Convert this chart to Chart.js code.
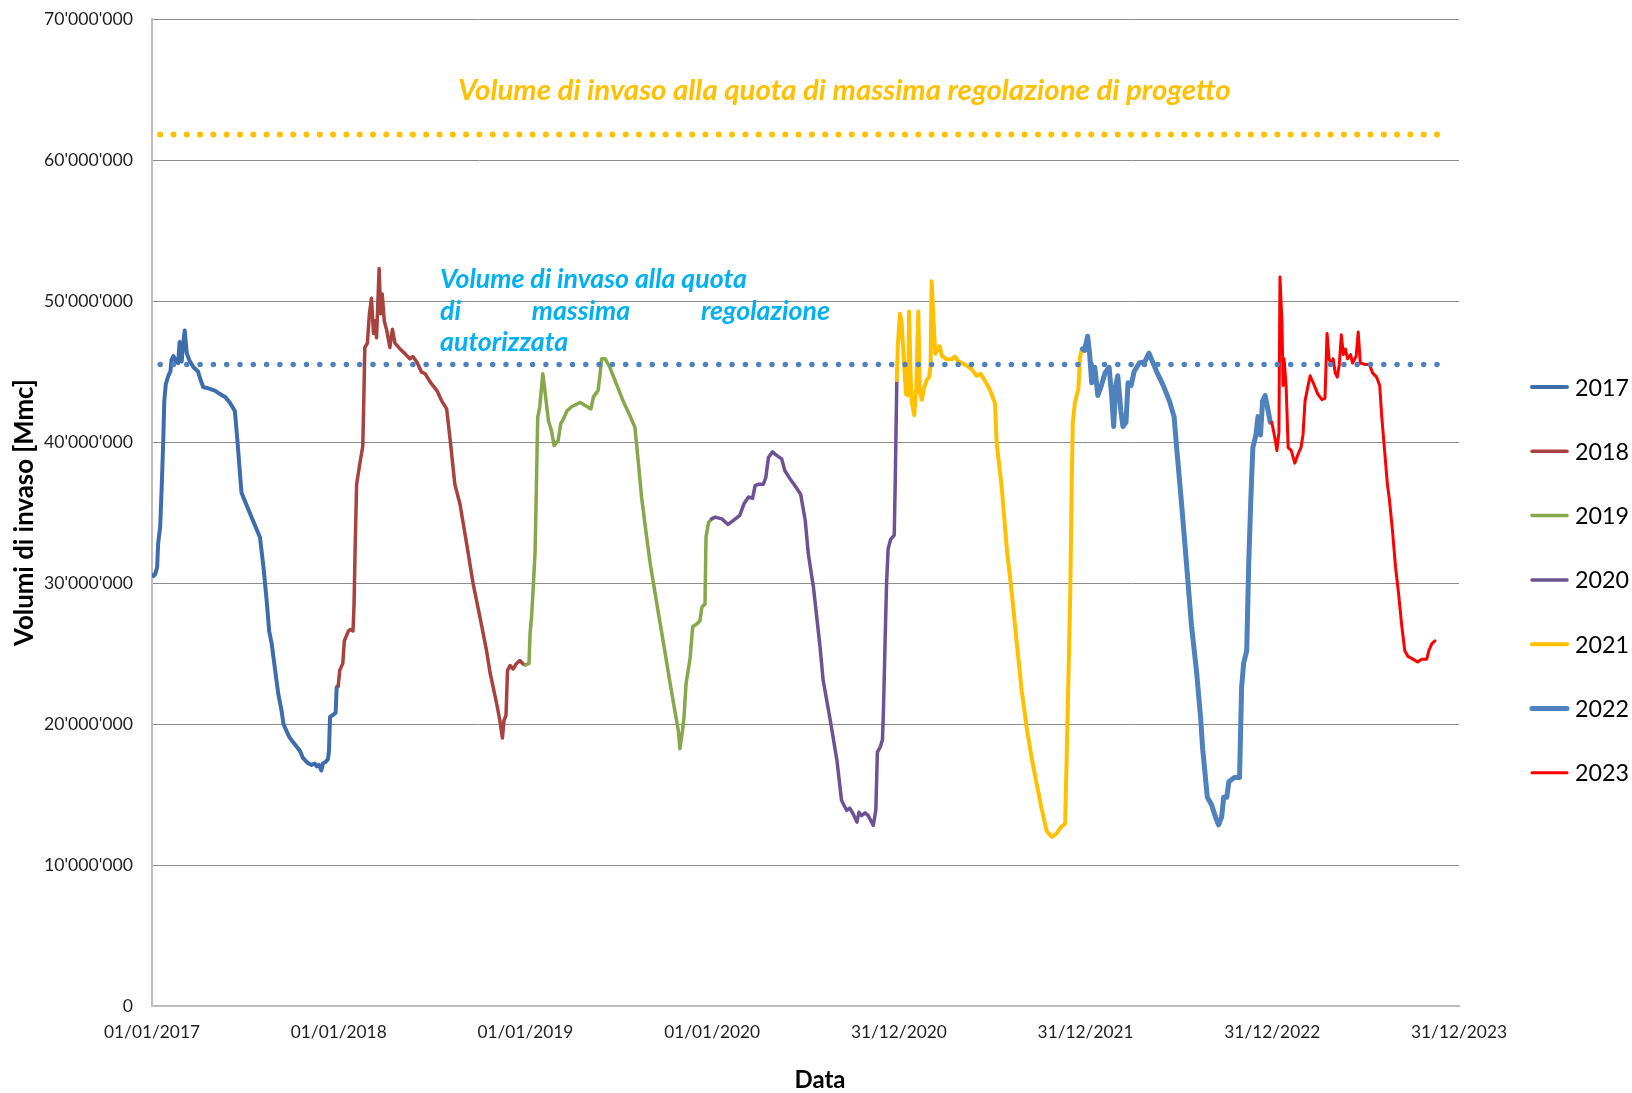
<!DOCTYPE html>
<html>
<head>
<meta charset="utf-8">
<script src="https://cdn.jsdelivr.net/npm/chart.js@4.4.1/dist/chart.umd.min.js"></script>
<style>
html,body{margin:0;padding:0;background:#ffffff;}
#wrap{width:1632px;height:1093px;position:relative;}
</style>
</head>
<body>
<div id="wrap"><canvas id="c"></canvas></div>
<script>
// ---------------- DATA (days since 01/01/2017, volume in millions of m3) ----------------
const seriesNames = ['2017','2018','2019','2020','2021','2022','2023'];

const days2017 = [0,3,6,10,12,16,19,22,24,27,32,36,38,42,47,51,54,58,61,64,68,73,81,90,94,100,110,123,133,143,152,162,167,171,175,192,211,218,224,229,234,240,247,253,257,263,268,276,289,295,300,306,312,318,322,326,331,334,339,344,346,348,354,359,361,364];
const vals2017 = [30.6,30.5,30.6,31.1,32.8,34.0,36.8,40.1,42.9,44.1,44.7,45.0,45.8,46.1,45.7,45.6,47.1,45.7,47.0,47.9,46.3,45.8,45.3,45.0,44.5,43.9,43.8,43.65,43.4,43.2,42.8,42.2,40.1,38.2,36.4,34.9,33.25,31.1,28.8,26.6,25.7,24.0,22.1,21.0,20.0,19.5,19.1,18.7,18.1,17.6,17.4,17.2,17.1,17.2,17.0,17.1,16.7,17.2,17.3,17.5,18.1,20.5,20.65,20.8,22.6,22.7];

const days2018 = [364,367,373,376,384,388,393,395,397,400,406,412,414,416,421,425,429,433,436,439,444,447,450,454,459,465,470,475,485,495,504,510,518,527,534,544,557,566,576,583,592,602,615,628,641,654,661,667,674,680,685,688,692,695,700,706,712,719,725,730];
const vals2018 = [22.7,23.8,24.3,25.9,26.6,26.7,26.6,28.5,32.3,37.0,38.4,39.7,42.9,46.7,47.0,49.1,50.2,47.7,48.6,47.4,52.3,49.1,50.5,48.6,47.9,46.7,48.0,47.0,46.6,46.25,45.9,46.06,45.66,44.95,44.84,44.24,43.65,42.94,42.35,40.1,37.0,35.6,32.8,29.9,27.6,25.2,23.6,22.6,21.4,20.25,19.0,20.25,20.6,23.8,24.15,23.9,24.27,24.5,24.27,24.2];

const days2019 = [730,737,739,742,745,749,752,754,758,764,768,775,781,786,794,799,804,811,820,837,846,858,863,872,876,879,886,895,908,921,934,944,951,957,967,974,987,1000,1013,1022,1029,1032,1037,1040,1044,1052,1057,1065,1071,1075,1081,1083,1088,1094];
const vals2019 = [24.2,24.3,26.4,27.6,29.5,32.3,38.0,41.75,42.5,44.84,43.65,41.5,40.8,39.75,40.1,41.3,41.6,42.2,42.5,42.8,42.6,42.35,43.2,43.65,44.84,45.9,45.9,45.3,44.1,42.9,41.9,41.05,38.45,36.1,33.25,31.36,28.5,25.7,22.85,20.96,19.5,18.24,19.5,20.5,22.85,24.7,26.9,27.1,27.3,28.3,28.5,33.25,34.3,34.55];

const days2020 = [1094,1101,1114,1126,1136,1149,1157,1166,1174,1179,1185,1195,1200,1205,1213,1221,1231,1237,1247,1257,1268,1277,1283,1293,1306,1312,1326,1339,1348,1358,1364,1371,1378,1382,1387,1394,1400,1405,1410,1415,1418,1424,1428,1430,1433,1436,1439,1444,1451,1453,1456];
const vals2020 = [34.55,34.67,34.55,34.15,34.43,34.8,35.6,36.1,36.0,36.9,37.0,37.0,37.5,38.9,39.3,39.05,38.8,37.98,37.4,36.9,36.3,34.43,32.07,29.7,25.45,23.1,20.25,17.4,14.57,13.87,14.03,13.6,13.04,13.74,13.5,13.7,13.5,13.16,12.8,13.9,18.0,18.4,18.9,21.1,25.7,30.0,32.4,33.1,33.4,37.3,44.4];

const days2021 = [1456,1458,1462,1465,1469,1474,1478,1480,1483,1485,1490,1494,1498,1501,1505,1509,1514,1519,1522,1524,1527,1531,1535,1540,1544,1554,1563,1570,1576,1589,1602,1612,1620,1628,1638,1648,1651,1661,1671,1681,1690,1700,1710,1720,1730,1739,1749,1759,1769,1776,1785,1788,1791,1795,1798,1800,1804,1811,1814,1817,1819];
const vals2021 = [44.4,46.8,49.1,48.6,46.3,43.4,43.3,49.25,44.6,42.9,41.9,43.8,49.25,43.55,43.0,43.8,44.36,44.6,45.45,51.4,49.25,46.26,46.5,46.8,46.1,45.86,45.86,46.05,45.72,45.5,45.17,44.7,44.83,44.36,43.7,42.74,40.0,36.8,32.45,29.2,25.9,22.4,19.7,17.5,15.64,14.0,12.4,12.0,12.25,12.66,12.93,17.5,22.4,29.2,37.3,41.4,42.74,43.8,46.0,46.5,46.6];

const days2022 = [1819,1823,1829,1833,1837,1843,1849,1855,1863,1871,1876,1880,1884,1888,1894,1898,1904,1908,1914,1920,1930,1941,1949,1957,1965,1977,1989,1998,2004,2012,2022,2032,2042,2050,2054,2058,2063,2071,2079,2085,2091,2095,2101,2105,2116,2126,2130,2134,2140,2144,2148,2152,2158,2162,2167,2171,2176,2182,2186];
const vals2022 = [46.6,46.5,47.5,46.2,44.2,45.3,43.3,43.9,44.9,45.3,43.3,41.1,44.0,44.7,42.2,41.1,41.4,44.2,44.0,45.0,45.6,45.7,46.3,45.6,44.9,44.0,42.9,41.8,39.2,35.9,31.5,27.0,23.7,20.4,18.2,16.7,14.8,14.3,13.4,12.85,13.4,14.8,14.8,15.9,16.2,16.2,22.6,24.3,25.2,31.5,35.9,39.6,40.5,41.8,40.5,42.9,43.3,42.2,41.4];

const days2023 = [2189,2195,2199,2203,2205,2209,2211,2213,2217,2221,2227,2234,2240,2246,2250,2254,2260,2264,2270,2279,2287,2293,2297,2301,2305,2309,2313,2317,2321,2325,2329,2333,2337,2343,2347,2354,2358,2362,2372,2380,2386,2394,2400,2404,2410,2415,2419,2425,2431,2437,2443,2449,2455,2465,2474,2482,2492,2496,2502,2508];
const vals2023 = [41.4,40.3,39.4,40.7,51.7,48.4,44.0,45.9,44.0,39.6,39.4,38.5,39.1,39.6,40.5,42.9,44.0,44.7,44.2,43.4,43.0,43.1,47.7,45.9,45.5,45.9,44.9,44.6,45.5,47.6,46.2,46.6,45.9,46.2,45.6,46.1,47.8,45.6,45.5,45.5,44.9,44.6,44.0,41.8,39.2,37.0,35.9,33.7,31.1,29.2,27.0,25.2,24.8,24.6,24.4,24.6,24.6,25.2,25.7,25.9];

const refDays = [16, 2512];
const refProgetto = [61.8, 61.8];
const refAutorizzata = [45.5, 45.5];

const xTickDays = [0,365,730,1095,1460,1825,2190,2555];
const xTickLabels = ['01/01/2017','01/01/2018','01/01/2019','01/01/2020','31/12/2020','31/12/2021','31/12/2022','31/12/2023'];
const yTickVals = [0,10,20,30,40,50,60,70];

const textProgetto = 'Volume di invaso alla quota di massima regolazione di progetto';
const textAut1 = 'Volume di invaso alla quota';
const textAut2 = ['di','massima','regolazione'];
const textAut3 = 'autorizzata';
const xTitle = 'Data';
const yTitle = 'Volumi di invaso [Mmc]';

// ---------------- STYLE ----------------
const FAMILY = 'Lato, "Open Sans", sans-serif';
const seriesColors = ['#3E6DAB','#A8423F','#87A84A','#6B5394','#FFC000','#4F81BD','#FF0000'];
const seriesWidths = [4,3.5,3.5,3.5,4,5,3];

const mctx = document.createElement('canvas').getContext('2d');
function fitSize(text, style, target){
  mctx.font = style + ' 100px ' + FAMILY;
  return 100 * target / mctx.measureText(text).width;
}
function fmtY(v){
  const n = Math.round(v * 1e6);
  return String(n).replace(/\B(?=(\d{3})+(?!\d))/g, "'");
}

const ySize = fitSize("70'000'000", 'normal 400', 89);
const xSize = fitSize('01/01/2017', 'normal 400', 96);
const yTitleSize = fitSize(yTitle, 'normal 700', 267);
const xTitleSize = fitSize(xTitle, 'normal 700', 51);
const legendSize = fitSize('2017', 'normal 400', 54);
const goldSize = fitSize(textProgetto, 'italic 700', 773);
const blueSize = fitSize(textAut1, 'italic 700', 307);

const allDays = [days2017,days2018,days2019,days2020,days2021,days2022,days2023];
const allVals = [vals2017,vals2018,vals2019,vals2020,vals2021,vals2022,vals2023];

const datasets = seriesNames.map((name, i) => ({
  label: name,
  data: allDays[i].map((d, k) => ({x: d, y: allVals[i][k]})),
  borderColor: seriesColors[i],
  backgroundColor: seriesColors[i],
  borderWidth: seriesWidths[i],
  pointRadius: 0,
  tension: 0,
  fill: false,
  borderJoinStyle: 'round',
  borderCapStyle: 'round',
  order: 10 + (seriesNames.length - i)
}));
datasets.push({
  label: 'progetto',
  data: refDays.map((d, k) => ({x: d, y: refProgetto[k]})),
  borderColor: '#FFC000', borderWidth: 6, borderDash: [0, 13.3], borderCapStyle: 'round',
  pointRadius: 0, fill: false, order: 1
});
datasets.push({
  label: 'autorizzata',
  data: refDays.map((d, k) => ({x: d, y: refAutorizzata[k]})),
  borderColor: '#4F81BD', borderWidth: 5.5, borderDash: [0, 13.3], borderCapStyle: 'round',
  pointRadius: 0, fill: false, order: 0
});

const overlay = {
  id: 'overlay',
  afterDraw(chart){
    const ctx = chart.ctx;
    ctx.save();
    ctx.textAlign = 'left';
    ctx.textBaseline = 'alphabetic';
    ctx.fillStyle = '#FFC000';
    ctx.font = 'italic 700 ' + goldSize + 'px ' + FAMILY;
    ctx.fillText(textProgetto, 458, 100);
    ctx.fillStyle = '#00B0F0';
    ctx.font = 'italic 700 ' + blueSize + 'px ' + FAMILY;
    ctx.fillText(textAut1, 440, 288);
    const w = textAut2.map(t => ctx.measureText(t).width);
    const gap = (390 - w.reduce((a,b)=>a+b,0)) / (textAut2.length - 1);
    let xx = 440;
    textAut2.forEach((t, k) => { ctx.fillText(t, xx, 320); xx += w[k] + gap; });
    ctx.fillText(textAut3, 440, 351);
    // x-axis title
    ctx.textAlign = 'center';
    ctx.textBaseline = 'middle';
    ctx.fillStyle = '#000000';
    ctx.font = 'normal 700 ' + xTitleSize + 'px ' + FAMILY;
    ctx.fillText(xTitle, 820, 1080);
    // legend
    ctx.textAlign = 'left';
    ctx.font = 'normal 400 ' + legendSize + 'px ' + FAMILY;
    seriesNames.forEach((name, i) => {
      const y = 387 + i * 64.3;
      ctx.strokeStyle = seriesColors[i];
      ctx.lineWidth = seriesWidths[i];
      ctx.lineCap = 'round';
      ctx.beginPath(); ctx.moveTo(1532, y); ctx.lineTo(1567, y); ctx.stroke();
      ctx.fillStyle = '#000000';
      ctx.fillText(name, 1575, y + 1);
    });
    ctx.restore();
  }
};

new Chart(document.getElementById('c'), {
  type: 'line',
  data: { datasets },
  options: {
    responsive: true,
    maintainAspectRatio: false,
    animation: false,
    devicePixelRatio: 1,
    layout: { padding: { left: 0, right: 173, top: 19, bottom: 0 } },
    plugins: { legend: { display: false }, tooltip: { enabled: false } },
    scales: {
      x: {
        type: 'linear', min: 0, max: 2555,
        afterFit(s){ s.height = 87; },
        afterBuildTicks(s){ s.ticks = xTickDays.map(v => ({value: v})); },
        ticks: {
          autoSkip: false, maxRotation: 0, minRotation: 0, padding: 16,
          color: '#1f1f1f', font: { family: FAMILY, size: xSize },
          callback: (v, i) => xTickLabels[i]
        },
        grid: { display: false, drawTicks: false },
        border: { display: true, color: '#bdbdbd', width: 2 },
        title: { display: false }
      },
      y: {
        min: 0, max: 70,
        afterFit(s){ s.width = 152; },
        afterBuildTicks(s){ s.ticks = yTickVals.map(v => ({value: v})); },
        ticks: { padding: 0, color: '#1f1f1f', font: { family: FAMILY, size: ySize }, callback: v => fmtY(v) },
        grid: { color: '#8c8c8c', lineWidth: 1, drawTicks: true, tickLength: 19, tickColor: 'rgba(0,0,0,0)' },
        border: { display: true, color: '#bdbdbd', width: 2 },
        title: { display: true, text: yTitle, color: '#000', font: { family: FAMILY, size: yTitleSize, weight: 'bold' }, padding: { top: 9, bottom: 0 } }
      }
    }
  },
  plugins: [overlay]
});
</script>
</body>
</html>
